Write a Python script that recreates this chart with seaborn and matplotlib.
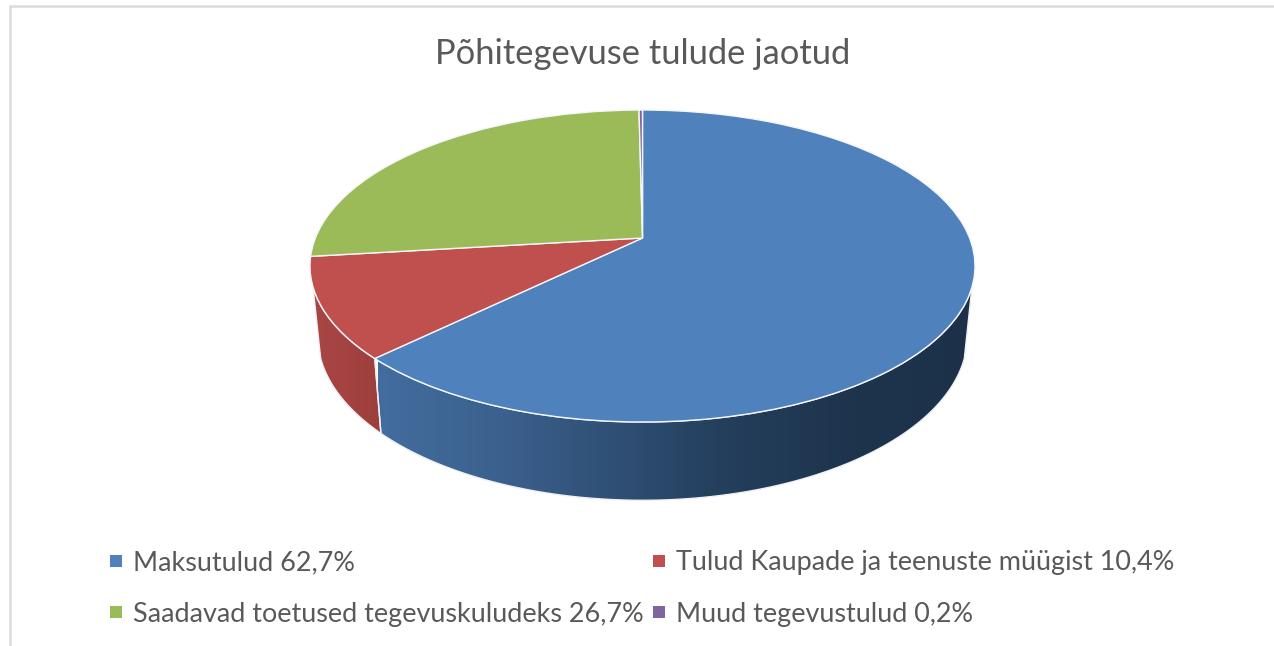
import numpy as np
import matplotlib
matplotlib.use("Agg")
import matplotlib.pyplot as plt
from matplotlib.lines import Line2D
from matplotlib.patches import Polygon
from matplotlib.transforms import Transform
import seaborn as sns

title = "Põhitegevuse tulude jaotud"
categories = ["Maksutulud", "Tulud Kaupade ja teenuste müügist",
              "Saadavad toetused tegevuskuludeks", "Muud tegevustulud"]
value_labels = ["62,7%", "10,4%", "26,7%", "0,2%"]
values = [62.7, 10.4, 26.7, 0.2]
colors = ["#4f81bd", "#c0504d", "#9bbb59", "#8064a2"]

sns.set_theme(style="white")
plt.rcParams["font.family"] = ["Lato", "DejaVu Sans"]
TEXT = "#595959"

# perspective geometry of the disc, in figure pixels
CX, CY = 642.5, 266.0
D, A, B, C = 327.1, 156.0, 28.0, 0.1795
KX, KY, YB = 0.977, 1.053, 336.0
HIDE = 17.9  # degrees below the horizontal where the wall appears


def project(x, y):
    w = 1 + C * y
    return D * x / w, (A * y + B) / w


class Perspective(Transform):
    input_dims = output_dims = 2
    is_affine = False

    def transform_non_affine(self, values):
        v = np.asarray(values, dtype=float)
        px, py = project(v[:, 0], v[:, 1])
        return np.column_stack([CX + px, CY - py])


def wall_polygon(a0, a1):
    t = np.radians(np.linspace(a0, a1, 120))
    px, py = project(np.cos(t), np.sin(t))
    top = np.column_stack([CX + px, CY - py])
    bottom = np.column_stack([CX + KX * px, YB - KY * py])
    return np.vstack([top, bottom[::-1]])


fig = plt.figure(figsize=(12.74, 6.46), dpi=100, facecolor="white")
ax = fig.add_axes([0, 0, 1, 1])

palette = sns.color_palette(colors)
wedges, _ = ax.pie(values, colors=palette, startangle=90, counterclock=False,
                   wedgeprops=dict(edgecolor="#f4f6fa", linewidth=1.0, zorder=3))
proj = Perspective() + ax.transData
for w in wedges:
    w.set_transform(proj)

# side walls: blue and red slices reach the front of the disc
blue_end = 90 - 360 * values[0] / sum(values)
walls = [
    (blue_end, -HIDE, ["#436d9f", "#3b618e", "#2f4f74", "#233d5a", "#1e344d", "#1c3149"], 378, 975),
    (-180 + HIDE, blue_end, ["#a84644", "#a44341", "#9c3f3c"], 312, 382),
]
for a0, a1, stops, x0, x1 in walls:
    poly = Polygon(wall_polygon(a0, a1), closed=True, facecolor="none",
                   edgecolor="#eef0f4", linewidth=1.0, zorder=2)
    ax.add_patch(poly)
    cmap = sns.blend_palette(stops, as_cmap=True)
    im = ax.imshow(np.linspace(0, 1, 256)[None, :], cmap=cmap, aspect="auto",
                   extent=(x0, x1, 510, 270), zorder=1, interpolation="bilinear")
    im.set_clip_path(poly)

# chart frame
ax.plot([9.5, 9.5, 1274], [646, 6, 6], color="#dcdcdc", lw=1.8, zorder=0,
        solid_joinstyle="miter")

ax.text(642.5, 53.5, title, ha="center", va="center", fontsize=24.8, color=TEXT)

handles = [Line2D([], [], linestyle="none", marker="s", markersize=8, color=c,
                  markeredgewidth=0) for c in colors]
labels = [f"{c} {v}" for c, v in zip(categories, value_labels)]
order = [0, 2, 1, 3]
leg = ax.legend([handles[i] for i in order], [labels[i] for i in order], ncol=2,
                loc="upper left", bbox_to_anchor=(102.5, 550),
                bbox_transform=ax.transData, frameon=False, fontsize=19.45,
                labelcolor=TEXT, borderaxespad=0, borderpad=0, handlelength=1,
                handletextpad=0.13, labelspacing=0.99, columnspacing=0.08)

ax.set_aspect("auto")
ax.set_xlim(0, 1274)
ax.set_ylim(646, 0)
ax.axis("off")
fig.savefig("out.png", dpi=100, facecolor="white")
